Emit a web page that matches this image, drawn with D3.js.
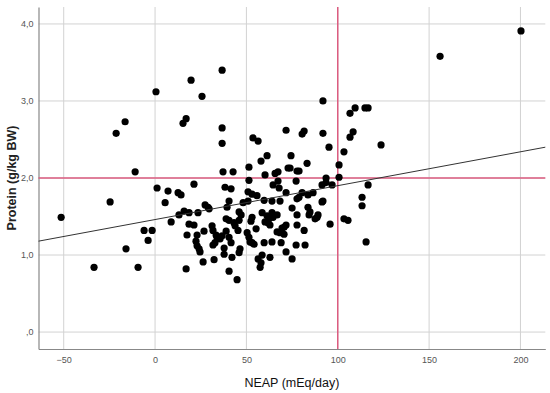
<!DOCTYPE html>
<html>
<head>
<meta charset="utf-8">
<script src="https://cdn.jsdelivr.net/npm/d3@7"></script>
<style>
  body { margin: 0; background: #fff; }
  svg { display: block; font-family: "Liberation Sans", Arial, sans-serif; }
</style>
</head>
<body>
<div id="chart"></div>
<script>
// NEAP (mEq/day) for each subject
const neap = [-51.4, -33.4, -24.6, -21.3, -16.4, -15.9, -10.9, -9.3, -6.0, -3.8, -1.6, 0.5, 1.1, 5.5, 7.1, 8.8, 13.1, 12.6, 14.2, 15.3,
  17.0, 15.9, 18.6, 18.6, 17.5, 17.0, 21.3, 19.7, 25.7, 36.7, 36.7, 36.7, 37.2, 42.7, 38.3, 41.6, 21.3, 23.5, 27.4, 29.0,
  29.6, 23.0, 22.4, 23.0, 24.1, 24.6, 26.8, 31.2, 31.7, 33.4, 33.9, 35.6, 31.7, 32.8, 26.3, 32.3, 37.8, 37.8, 36.7, 38.9,
  40.5, 39.4, 38.9, 41.6, 40.5, 42.1, 40.5, 44.9, 46.0, 46.5, 45.4, 46.0, 43.8, 43.2, 47.1, 46.0, 40.5, 50.4, 51.4, 51.4,
  50.9, 50.9, 53.1, 55.8, 59.7, 64.0, 68.4, 53.6, 56.4, 58.0, 61.3, 60.2, 65.7, 67.3, 64.6, 67.9, 67.3, 71.7, 74.4, 72.8,
  73.9, 77.7, 78.8, 77.2, 80.5, 81.6, 83.2, 71.7, 77.7, 78.8, 83.7, 86.5, 91.9, 91.9, 91.9, 95.2, 93.6, 93.6, 91.4, 96.9,
  100.7, 100.7, 103.4, 106.7, 109.5, 106.7, 108.4, 114.9, 116.6, 116.6, 156.0, 200.3, 123.7, 113.3, 113.3, 115.5, 103.4, 105.6, 95.8, 57.5,
  56.4, 58.0, 58.6, 62.9, 75.0, 71.7, 77.2, 82.1, 59.7, 64.0, 69.0, 51.4, 52.0, 53.1, 54.2, 55.3, 66.8, 68.4, 69.5, 70.6,
  71.7, 70.6, 77.7, 81.6, 52.5, 53.1, 58.6, 61.3, 62.4, 64.0, 64.6, 66.8, 60.2, 61.8, 62.9, 75.0, 83.7, 84.8, 84.3, 88.7,
  87.6, 89.2, 77.7, 91.4, 48.2, 80.5];

// Protein (g/kg BW) for each subject
const protein = [1.49, 0.84, 1.69, 2.58, 2.73, 1.08, 2.08, 0.84, 1.32, 1.19, 1.32, 3.12, 1.87, 1.68, 1.83, 1.43, 1.52, 1.81, 1.78, 2.71,
  2.77, 1.57, 1.55, 1.40, 1.26, 0.82, 1.92, 3.27, 3.06, 3.40, 2.65, 2.45, 2.08, 2.08, 1.88, 1.86, 1.39, 1.55, 1.65, 1.62,
  1.60, 1.26, 1.18, 1.12, 1.08, 1.04, 1.31, 1.38, 1.32, 1.26, 1.23, 1.21, 1.13, 1.16, 0.91, 0.94, 1.09, 1.01, 1.25, 1.47,
  1.45, 1.62, 1.31, 1.16, 1.23, 0.97, 0.79, 0.68, 1.03, 1.08, 1.32, 1.45, 1.38, 1.42, 1.52, 1.56, 1.70, 1.29, 2.14, 1.97,
  1.82, 1.70, 1.79, 1.77, 1.71, 1.70, 1.70, 2.52, 2.48, 2.22, 2.29, 2.04, 2.06, 2.08, 1.91, 1.87, 1.96, 2.62, 2.29, 2.13,
  2.13, 2.09, 2.09, 1.96, 2.57, 2.61, 2.19, 1.81, 1.73, 1.75, 1.78, 1.81, 1.70, 3.00, 2.58, 2.40, 2.00, 1.94, 1.91, 1.91,
  2.17, 2.01, 2.34, 2.84, 2.91, 2.53, 2.60, 2.91, 2.91, 1.91, 3.58, 3.91, 2.43, 1.75, 1.64, 1.17, 1.47, 1.45, 1.40, 0.84,
  0.95, 0.90, 1.00, 0.97, 0.95, 1.04, 1.13, 1.13, 1.16, 1.17, 1.16, 1.23, 1.17, 1.16, 1.14, 1.34, 1.30, 1.29, 1.35, 1.36,
  1.39, 1.27, 1.39, 1.32, 1.44, 1.49, 1.55, 1.51, 1.47, 1.55, 1.49, 1.52, 1.43, 1.42, 1.39, 1.61, 1.62, 1.56, 1.52, 1.49,
  1.47, 1.52, 1.52, 1.69, 1.68, 1.81];

// fit line (left and right ends)
const fitX = [-63.8, 213.6];
const fitY = [1.18, 2.40];

// reference lines
const refX = 100;
const refY = 2.0;

const xTicks = [-50, 0, 50, 100, 150, 200];
const yTicks = [0, 1, 2, 3, 4];
const yTickLabels = [",0", "1,0", "2,0", "3,0", "4,0"];

const svgWidth = 550, svgHeight = 393;
const margin = { top: 7, right: 4.7, bottom: 44, left: 38.5 };
const width = svgWidth - margin.left - margin.right;
const height = svgHeight - margin.top - margin.bottom;

const svg = d3.select("#chart").append("svg")
  .attr("width", svgWidth)
  .attr("height", svgHeight);

const g = svg.append("g")
  .attr("transform", `translate(${margin.left},${margin.top})`);

const x = d3.scaleLinear().domain([-63.8, 213.6]).range([0, width]);
const y = d3.scaleLinear().domain([-0.22, 4.22]).range([height, 0]);

// gridlines
g.append("g").selectAll("line").data(xTicks).join("line")
  .attr("x1", d => x(d)).attr("x2", d => x(d))
  .attr("y1", 0).attr("y2", height)
  .attr("stroke", "#d2d2d2").attr("stroke-width", 1);

g.append("g").selectAll("line").data(yTicks).join("line")
  .attr("x1", 0).attr("x2", width)
  .attr("y1", d => y(d)).attr("y2", d => y(d))
  .attr("stroke", "#d2d2d2").attr("stroke-width", 1);

// axes
const bottomAxis = d3.axisBottom(x).tickValues(xTicks).tickSize(0).tickPadding(8);
const leftAxis = d3.axisLeft(y).tickValues(yTicks).tickSize(0).tickPadding(5)
  .tickFormat((d, i) => yTickLabels[i]);

const xAxisG = g.append("g").attr("transform", `translate(0,${height})`).call(bottomAxis);
const yAxisG = g.append("g").call(leftAxis);

[xAxisG, yAxisG].forEach(a => {
  a.select(".domain").attr("stroke", "#888").attr("stroke-width", 1.2);
  a.selectAll("text").attr("fill", "#555").style("font-size", "9px");
});

// reference lines
g.append("line")
  .attr("x1", x(refX)).attr("x2", x(refX))
  .attr("y1", 0).attr("y2", height)
  .attr("stroke", "#dc5c80").attr("stroke-width", 1.5);

g.append("line")
  .attr("x1", 0).attr("x2", width)
  .attr("y1", y(refY)).attr("y2", y(refY))
  .attr("stroke", "#dc5c80").attr("stroke-width", 1.5);

// points
g.append("g").selectAll("circle").data(neap).join("circle")
  .attr("cx", d => x(d))
  .attr("cy", (d, i) => y(protein[i]))
  .attr("r", 3.6)
  .attr("fill", "#000");

// fit line
g.append("line")
  .attr("x1", x(fitX[0])).attr("y1", y(fitY[0]))
  .attr("x2", x(fitX[1])).attr("y2", y(fitY[1]))
  .attr("stroke", "#333").attr("stroke-width", 1);

// axis titles
g.append("text")
  .attr("x", width / 2)
  .attr("y", height + 38)
  .attr("text-anchor", "middle")
  .style("font-size", "12.5px")
  .attr("fill", "#111")
  .text("NEAP (mEq/day)");

g.append("text")
  .attr("transform", "rotate(-90)")
  .attr("x", -height / 2)
  .attr("y", -23)
  .attr("text-anchor", "middle")
  .style("font-size", "12.5px")
  .style("font-weight", "bold")
  .attr("fill", "#222")
  .text("Protein (g/kg BW)");
</script>
</body>
</html>
